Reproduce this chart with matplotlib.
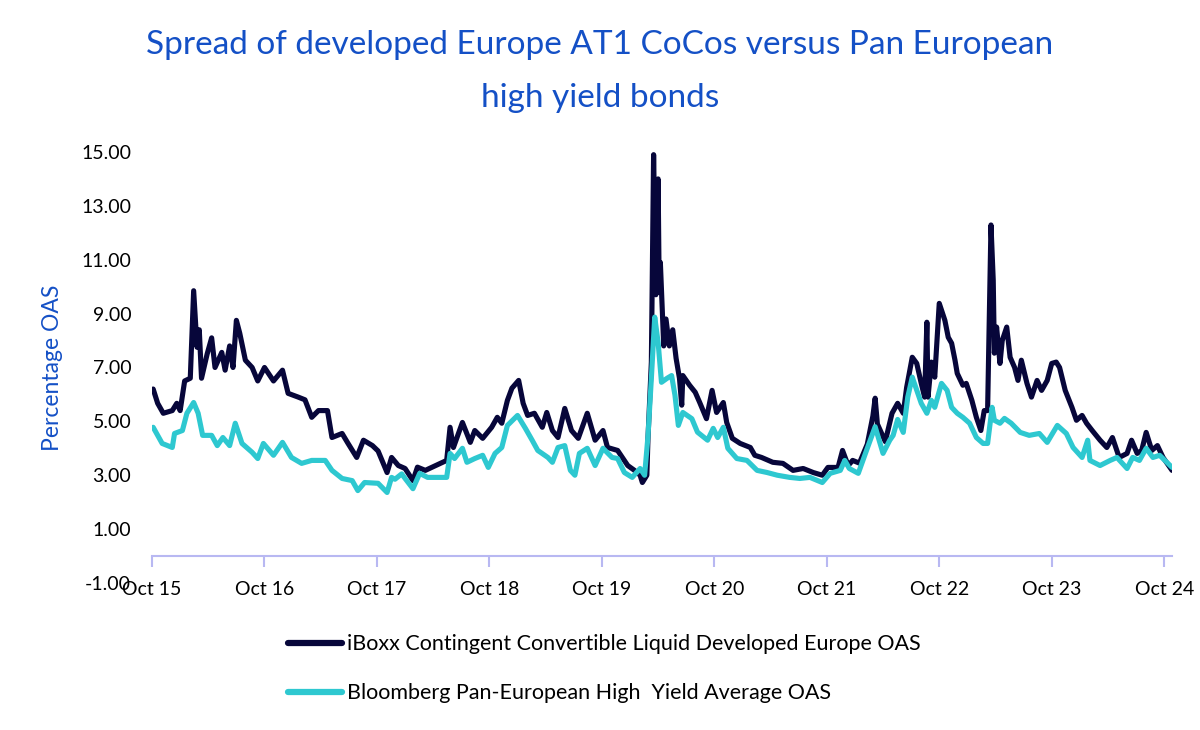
import matplotlib
matplotlib.use('Agg')
import matplotlib.pyplot as plt

plt.rcParams['font.family'] = ['Lato', 'DejaVu Sans']

# decimal-year dates and OAS (%)
coco_dates = [
    2015.76, 2015.80, 2015.85, 2015.93, 2015.97, 2016.00, 2016.04, 2016.09, 2016.12, 2016.15,
    2016.17, 2016.19, 2016.24, 2016.28, 2016.31, 2016.37, 2016.40, 2016.44, 2016.47, 2016.50,
    2016.53, 2016.58, 2016.64, 2016.69, 2016.75, 2016.83, 2016.91, 2016.96, 2017.05, 2017.11,
    2017.17, 2017.23, 2017.31, 2017.35, 2017.44, 2017.49, 2017.57, 2017.63, 2017.71, 2017.76,
    2017.84, 2017.88, 2017.94, 2018.00, 2018.07, 2018.11, 2018.18, 2018.37, 2018.40, 2018.43,
    2018.51, 2018.58, 2018.62, 2018.69, 2018.77, 2018.82, 2018.86, 2018.91, 2018.95, 2019.01,
    2019.05, 2019.09, 2019.15, 2019.22, 2019.26, 2019.31, 2019.36, 2019.42, 2019.48, 2019.54,
    2019.62, 2019.69, 2019.76, 2019.80, 2019.89, 2019.98, 2020.04, 2020.09, 2020.11, 2020.15,
    2020.16, 2020.19, 2020.21, 2020.23, 2020.25, 2020.26, 2020.27, 2020.29, 2020.30, 2020.32,
    2020.35, 2020.38, 2020.41, 2020.44, 2020.46, 2020.47, 2020.53, 2020.58, 2020.62, 2020.68,
    2020.73, 2020.77, 2020.83, 2020.86, 2020.91, 2020.98, 2021.07, 2021.11, 2021.17, 2021.27,
    2021.36, 2021.45, 2021.54, 2021.63, 2021.71, 2021.76, 2021.85, 2021.89, 2021.94, 2021.98,
    2022.04, 2022.11, 2022.16, 2022.18, 2022.20, 2022.27, 2022.33, 2022.38, 2022.43, 2022.46,
    2022.51, 2022.55, 2022.59, 2022.62, 2022.64, 2022.65, 2022.68, 2022.71, 2022.75, 2022.80,
    2022.83, 2022.86, 2022.89, 2022.91, 2022.96, 2022.99, 2023.04, 2023.08, 2023.12, 2023.15,
    2023.18, 2023.21, 2023.23, 2023.24, 2023.26, 2023.29, 2023.31, 2023.35, 2023.38, 2023.42,
    2023.45, 2023.48, 2023.53, 2023.57, 2023.62, 2023.66, 2023.71, 2023.75, 2023.79, 2023.82,
    2023.87, 2023.93, 2023.97, 2024.02, 2024.06, 2024.11, 2024.18, 2024.24, 2024.29, 2024.35,
    2024.42, 2024.46, 2024.51, 2024.55, 2024.59, 2024.64, 2024.69, 2024.74, 2024.82,
]
coco_oas = [
    6.20, 5.67, 5.30, 5.40, 5.67, 5.40, 6.50, 6.60, 9.85, 7.75,
    8.40, 6.60, 7.50, 8.10, 7.00, 7.56, 6.90, 7.80, 7.00, 8.75,
    8.27, 7.27, 7.00, 6.50, 7.00, 6.50, 6.90, 6.04, 5.90, 5.80,
    5.15, 5.40, 5.40, 4.40, 4.55, 4.20, 3.66, 4.30, 4.10, 3.90,
    3.10, 3.66, 3.36, 3.25, 2.80, 3.30, 3.18, 3.55, 4.78, 4.03,
    4.96, 4.22, 4.66, 4.37, 4.78, 5.15, 4.93, 5.78, 6.23, 6.52,
    5.67, 5.22, 5.30, 4.78, 5.33, 4.66, 4.40, 5.48, 4.66, 4.37,
    5.30, 4.30, 4.66, 4.03, 3.92, 3.36, 3.18, 3.00, 2.73, 3.00,
    4.37, 7.20, 14.90, 9.70, 14.00, 9.80, 10.90, 8.83, 7.80, 8.80,
    7.80, 8.40, 7.34, 6.60, 5.60, 6.70, 6.34, 6.08, 5.70, 5.10,
    6.15, 5.33, 5.70, 4.96, 4.37, 4.18, 4.03, 3.74, 3.66, 3.48,
    3.44, 3.18, 3.25, 3.10, 3.00, 3.29, 3.29, 3.92, 3.36, 3.55,
    3.45, 4.15, 5.20, 5.86, 4.90, 4.25, 5.30, 5.67, 5.30, 6.26,
    7.38, 7.15, 6.41, 5.90, 8.68, 5.90, 7.20, 6.64, 9.38, 8.75,
    8.12, 7.90, 7.27, 6.78, 6.34, 6.41, 5.78, 5.15, 4.66, 5.40,
    5.40, 12.29, 10.24, 7.53, 8.50, 7.15, 8.00, 8.50, 7.38, 7.00,
    6.52, 7.27, 6.41, 5.90, 6.52, 6.15, 6.52, 7.15, 7.20, 7.00,
    6.15, 5.52, 5.04, 5.22, 4.93, 4.66, 4.30, 4.03, 4.40, 3.66,
    3.81, 4.30, 3.81, 3.92, 4.59, 3.92, 4.10, 3.66, 3.18,
]

hy_dates = [
    2015.76, 2015.84, 2015.93, 2015.95, 2016.02, 2016.06, 2016.12, 2016.16, 2016.20, 2016.28,
    2016.33, 2016.38, 2016.44, 2016.49, 2016.55, 2016.64, 2016.69, 2016.74, 2016.83, 2016.91,
    2016.99, 2017.08, 2017.17, 2017.29, 2017.35, 2017.44, 2017.53, 2017.58, 2017.64, 2017.76,
    2017.84, 2017.88, 2017.91, 2017.97, 2018.00, 2018.07, 2018.13, 2018.20, 2018.37, 2018.40,
    2018.44, 2018.51, 2018.55, 2018.62, 2018.69, 2018.74, 2018.80, 2018.86, 2018.91, 2019.00,
    2019.07, 2019.13, 2019.18, 2019.27, 2019.31, 2019.36, 2019.42, 2019.47, 2019.51, 2019.55,
    2019.62, 2019.69, 2019.76, 2019.84, 2019.89, 2019.95, 2020.02, 2020.09, 2020.13, 2020.16,
    2020.19, 2020.22, 2020.25, 2020.28, 2020.33, 2020.37, 2020.40, 2020.43, 2020.47, 2020.55,
    2020.60, 2020.69, 2020.74, 2020.78, 2020.83, 2020.87, 2020.95, 2021.04, 2021.13, 2021.22,
    2021.31, 2021.42, 2021.51, 2021.60, 2021.71, 2021.78, 2021.87, 2021.91, 2021.95, 2022.03,
    2022.11, 2022.18, 2022.25, 2022.31, 2022.34, 2022.38, 2022.43, 2022.47, 2022.51, 2022.55,
    2022.59, 2022.64, 2022.68, 2022.71, 2022.77, 2022.82, 2022.86, 2022.91, 2022.96, 2023.02,
    2023.08, 2023.14, 2023.18, 2023.22, 2023.24, 2023.29, 2023.33, 2023.39, 2023.47, 2023.55,
    2023.64, 2023.71, 2023.80, 2023.88, 2023.94, 2024.02, 2024.07, 2024.09, 2024.18, 2024.27,
    2024.33, 2024.42, 2024.47, 2024.53, 2024.59, 2024.65, 2024.71, 2024.82,
]
hy_oas = [
    4.78, 4.18, 4.03, 4.55, 4.66, 5.30, 5.70, 5.30, 4.48, 4.48,
    4.10, 4.40, 4.10, 4.93, 4.18, 3.85, 3.62, 4.18, 3.74, 4.22,
    3.66, 3.44, 3.55, 3.55, 3.18, 2.88, 2.80, 2.43, 2.73, 2.70,
    2.36, 2.92, 2.85, 3.05, 2.88, 2.50, 3.07, 2.92, 2.92, 3.81,
    3.62, 4.00, 3.48, 3.62, 3.74, 3.29, 3.81, 4.03, 4.85, 5.22,
    4.74, 4.30, 3.92, 3.66, 3.48, 4.03, 4.10, 3.18, 3.00, 3.81,
    4.00, 3.36, 4.00, 3.66, 3.62, 3.10, 2.92, 3.25, 3.00, 4.45,
    6.60, 8.87, 7.93, 6.45, 6.60, 6.70, 5.97, 4.85, 5.33, 5.10,
    4.60, 4.30, 4.74, 4.40, 4.78, 4.00, 3.62, 3.55, 3.18, 3.10,
    3.00, 2.92, 2.88, 2.92, 2.73, 3.07, 3.18, 3.55, 3.25, 3.07,
    4.00, 4.80, 3.81, 4.30, 4.48, 5.07, 4.59, 5.90, 6.64, 6.15,
    5.67, 5.30, 5.78, 5.52, 6.41, 6.15, 5.52, 5.30, 5.15, 4.93,
    4.40, 4.18, 4.18, 5.52, 5.04, 4.93, 5.11, 4.93, 4.59, 4.48,
    4.55, 4.22, 4.85, 4.55, 4.03, 3.66, 4.30, 3.55, 3.36, 3.55,
    3.66, 3.25, 3.66, 3.55, 4.00, 3.66, 3.74, 3.29,
]

tick_years = [2015.75 + i for i in range(10)]
tick_labels = ['Oct 15', 'Oct 16', 'Oct 17', 'Oct 18', 'Oct 19',
               'Oct 20', 'Oct 21', 'Oct 22', 'Oct 23', 'Oct 24']
y_ticks = [-1, 1, 3, 5, 7, 9, 11, 13, 15]

coco_label = 'iBoxx Contingent Convertible Liquid Developed Europe OAS'
hy_label = 'Bloomberg Pan-European High  Yield Average OAS'

navy = '#07063a'
cyan = '#2ec8d0'
blue = '#1450c6'
axis_col = '#b8b8f2'

fig = plt.figure(figsize=(12, 7.3), dpi=100)
ax = fig.add_axes([0.1267, 0.2014, 0.85, 0.5904])

ax.plot(coco_dates, coco_oas, color=navy, lw=3.7, solid_joinstyle='round',
        solid_capstyle='round', label=coco_label, zorder=2)
ax.plot(hy_dates, hy_oas, color=cyan, lw=3.7, solid_joinstyle='round',
        solid_capstyle='round', label=hy_label, zorder=3)

ax.set_xlim(2015.75, 2024.82)
ax.set_ylim(-1, 15)
ax.set_yticks(y_ticks)
ax.set_yticklabels(['%.2f' % v for v in y_ticks])
ax.set_xticks(tick_years)
ax.set_xticklabels(tick_labels)

# horizontal axis crosses at zero, labels stay at the bottom
for s in ['top', 'right', 'left']:
    ax.spines[s].set_visible(False)
ax.spines['bottom'].set_position(('data', 0))
ax.spines['bottom'].set_color(axis_col)
ax.spines['bottom'].set_linewidth(1.5)
ax.tick_params(axis='x', direction='out', length=8, width=1.5, color=axis_col,
               labelsize=14, pad=10)
ax.tick_params(axis='y', length=0, labelsize=14, pad=15)

ax.set_ylabel('Percentage OAS', color=blue, fontsize=16.5, labelpad=13)

fig.text(0.5, 0.938, 'Spread of developed Europe AT1 CoCos versus Pan European',
         ha='center', va='center', color=blue, fontsize=24)
fig.text(0.5, 0.866, 'high yield bonds', ha='center', va='center',
         color=blue, fontsize=24)

handles, labels = ax.get_legend_handles_labels()
leg = fig.legend(handles, labels, loc='upper left', bbox_to_anchor=(0.24, 0.131),
                 frameon=False, fontsize=15.5, handlelength=2.5, handletextpad=0.25,
                 labelspacing=1.35, borderpad=0, borderaxespad=0)
for line in leg.get_lines():
    line.set_linewidth(4.5)
    line.set_solid_capstyle('round')

fig.savefig('out.png', dpi=100)
